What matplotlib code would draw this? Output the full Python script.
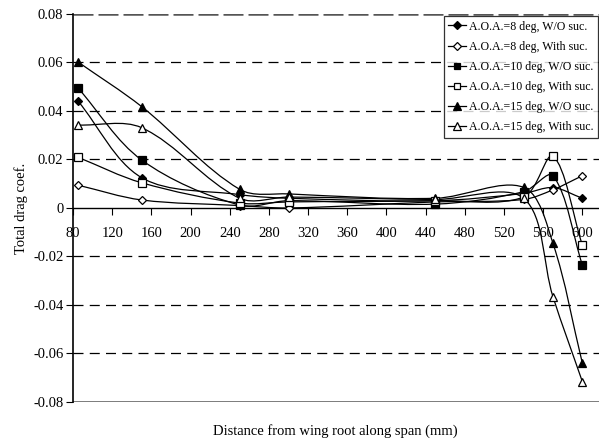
import numpy as np
import matplotlib
matplotlib.use('Agg')
import matplotlib.pyplot as plt
from matplotlib.path import Path
from matplotlib.patches import PathPatch

plt.rcParams['font.family'] = ['Liberation Serif', 'DejaVu Serif']

# 量測位置 (mm)
span = [85, 150, 250, 300, 450, 540, 570, 600]

# 各條件的阻力係數
aoa8_wo = [0.0441, 0.0125, 0.0055, 0.0040, 0.0030, 0.0060, 0.0084, 0.0040]
aoa8_with = [0.0094, 0.0033, 0.0010, 0.0000, 0.0025, 0.0035, 0.0075, 0.0133]
aoa10_wo = [0.0495, 0.0198, 0.0012, 0.0030, 0.0016, 0.0067, 0.0133, -0.0235]
aoa10_with = [0.0209, 0.0104, 0.0020, 0.0025, 0.0030, 0.0045, 0.0214, -0.0153]
aoa15_wo = [0.0602, 0.0418, 0.0077, 0.0058, 0.0040, 0.0085, -0.0146, -0.0640]
aoa15_with = [0.0342, 0.0331, 0.0040, 0.0045, 0.0035, 0.0040, -0.0366, -0.0716]

labels = ['A.O.A.=8 deg, W/O suc.', 'A.O.A.=8 deg, With suc.',
          'A.O.A.=10 deg, W/O suc.', 'A.O.A.=10 deg, With suc.',
          'A.O.A.=15 deg, W/O suc.', 'A.O.A.=15 deg, With suc.']
series = [aoa8_wo, aoa8_with, aoa10_wo, aoa10_with, aoa15_wo, aoa15_with]
markers = ['D', 'D', 's', 's', '^', '^']
msizes = [4.0, 4.0, 5.2, 5.2, 5.8, 5.8]
faces = ['black', 'white', 'black', 'white', 'black', 'white']

xticks = list(range(80, 601, 40))
yticks = [-0.08, -0.06, -0.04, -0.02, 0, 0.02, 0.04, 0.06, 0.08]

fig = plt.figure(figsize=(5.99, 4.44), dpi=100)
ax = fig.add_axes([0.122, 0.0946, 0.878, 0.874])
ax.set_xlim(80, 617)
ax.set_ylim(-0.08, 0.08)


def smooth_path(x, y):
    # 類似 Excel 的平滑線：在螢幕座標下計算貝茲控制點
    pts = ax.transData.transform(np.column_stack([x, y]))
    n = len(pts)
    d = np.hypot(*np.diff(pts, axis=0).T)
    verts = [pts[0]]
    codes = [Path.MOVETO]
    for i in range(n - 1):
        i0 = max(i - 1, 0)
        i3 = min(i + 2, n - 1)
        dprev = d[i - 1] if i > 0 else 0.0
        dnext = d[i + 1] if i + 2 < n else 0.0
        c1 = pts[i] + (pts[i + 1] - pts[i0]) * d[i] / (dprev + d[i]) / 3
        c2 = pts[i + 1] - (pts[i3] - pts[i]) * d[i] / (d[i] + dnext) / 3
        verts += [c1, c2, pts[i + 1]]
        codes += [Path.CURVE4] * 3
    verts = ax.transData.inverted().transform(np.array(verts))
    return Path(verts, codes)


for ys, m, ms, fc, lab in zip(series, markers, msizes, faces, labels):
    ax.add_patch(PathPatch(smooth_path(span, ys), facecolor='none',
                           edgecolor='black', lw=0.9, zorder=3))
    ax.plot(span, ys, linestyle='none', marker=m, ms=ms, mfc=fc,
            mec='black', mew=0.9, zorder=4)
    ax.plot([], [], color='black', lw=0.9, marker=m, ms=ms * 0.9, mfc=fc,
            mec='black', mew=0.9, label=lab)

ax.set_xticks(xticks)
ax.set_yticks(yticks)
ax.set_yticklabels(['-0.08', '-0.06', '-0.04', '-0.02', '0',
                    '0.02', '0.04', '0.06', '0.08'])

for yv in yticks:
    if yv != 0 and abs(yv) != 0.08:
        ax.axhline(yv, color='black', lw=0.9, dashes=(8, 5), zorder=1)
ax.axhline(0.08, color='#555555', lw=1.8, dashes=(8, 2), zorder=1)
ax.axhline(-0.08, color='#555555', lw=1.8, zorder=1)

ax.spines['top'].set_visible(False)
ax.spines['right'].set_visible(False)
ax.spines['bottom'].set_position(('data', 0))
ax.spines['bottom'].set_linewidth(1.0)
ax.spines['left'].set_linewidth(1.2)
ax.tick_params(axis='x', direction='out', length=5, width=0.8, labelsize=10.5, pad=9)
ax.tick_params(axis='y', direction='out', length=5, width=0.8, labelsize=10.5, pad=2)

ax.set_ylabel('Total drag coef.', fontsize=10.5, labelpad=4)
fig.text(0.56, 0.03, 'Distance from wing root along span (mm)',
         ha='center', va='center', fontsize=10.5)

leg = ax.legend(loc='upper right', bbox_to_anchor=(0.998, 0.995), fontsize=8.6,
                frameon=True, fancybox=False, edgecolor='black',
                handlelength=1.5, handletextpad=0.2, labelspacing=0.68,
                borderpad=0.4, borderaxespad=0.0)
leg.get_frame().set_linewidth(0.9)
leg.set_zorder(5)

fig.savefig('out.png', dpi=100)
